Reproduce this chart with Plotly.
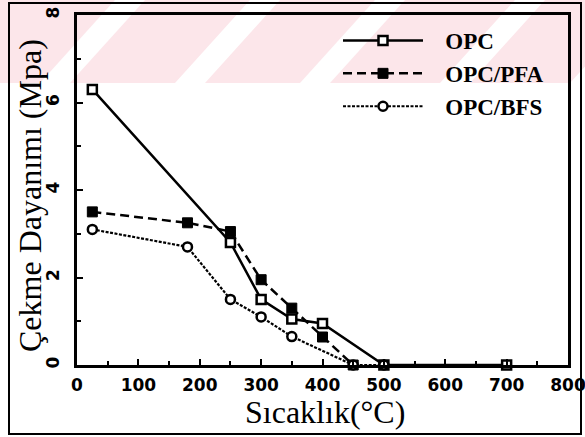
import plotly.graph_objects as go

# Sıcaklık (°C) ve çekme dayanımı (MPa) değerleri
opc_x = [25, 250, 300, 350, 400, 500, 700]
opc_y = [6.3, 2.8, 1.5, 1.05, 0.95, 0, 0]

pfa_x = [25, 180, 250, 300, 350, 400, 450]
pfa_y = [3.5, 3.25, 3.05, 1.95, 1.3, 0.64, 0]

bfs_x = [25, 180, 250, 300, 350, 450, 500]
bfs_y = [3.1, 2.7, 1.5, 1.1, 0.65, 0, 0]

x_ticks = [0, 100, 200, 300, 400, 500, 600, 700, 800]
y_ticks = [0, 2, 4, 6, 8]

W, H = 585, 437
L, R, T, B = 77, 17, 15, 72
pw, ph = W - L - R, H - T - B


def px(x):
    return (x - L) / pw


def py(y):
    return (H - B - y) / ph


pad = "\u00a0\u00a0\u00a0"

fig = go.Figure()

fig.add_trace(go.Scatter(
    x=opc_x, y=opc_y, name=pad + "OPC", mode="lines+markers", cliponaxis=False,
    line=dict(color="black", width=2.5),
    marker=dict(symbol="square", size=9, color="white",
                line=dict(color="black", width=2.5)),
))
fig.add_trace(go.Scatter(
    x=pfa_x, y=pfa_y, name=pad + "OPC/PFA", mode="lines+markers", cliponaxis=False,
    line=dict(color="black", width=2.5, dash="9px,5px"),
    marker=dict(symbol="square", size=10, color="black",
                line=dict(color="black", width=1)),
))
fig.add_trace(go.Scatter(
    x=bfs_x, y=bfs_y, name=pad + "OPC/BFS", mode="lines+markers", cliponaxis=False,
    line=dict(color="black", width=2.2, dash="3px,1.5px"),
    marker=dict(symbol="circle", size=9, color="white",
                line=dict(color="black", width=2.5)),
))

shapes = []
# soluk kırmızı filigran bandı
shapes.append(dict(type="rect", xref="paper", yref="paper",
                   x0=px(0), x1=px(W), y0=py(83), y1=py(0),
                   fillcolor="#fce6ea", line=dict(width=0), layer="below"))
for s in [40, 175, 300, 440, 570]:
    path = "M {} {} L {} {} L {} {} L {} {} Z".format(
        px(s), py(83), px(s + 30), py(83), px(s + 105), py(0), px(s + 75), py(0))
    shapes.append(dict(type="path", xref="paper", yref="paper", path=path,
                       fillcolor="white", line=dict(width=0), layer="below"))
# dış çerçeve
shapes.append(dict(type="rect", xref="paper", yref="paper",
                   x0=px(9), x1=px(581), y0=py(434), y1=py(3),
                   line=dict(color="black", width=2)))

axis_common = dict(
    showline=True, linecolor="black", linewidth=3, mirror=True,
    ticks="inside", ticklen=6, tickwidth=2, tickcolor="black",
    showgrid=False, zeroline=False, automargin=False,
    ticklabeloverflow="allow",
    tickfont=dict(family="DejaVu Sans", size=17, color="black", weight="bold"),
)

fig.update_layout(
    width=W, height=H,
    margin=dict(l=L, r=R, t=T, b=B, autoexpand=False),
    plot_bgcolor="rgba(0,0,0,0)",
    paper_bgcolor="white",
    showlegend=True,
    legend=dict(
        x=px(338), y=py(19), xanchor="left", yanchor="top",
        bgcolor="rgba(0,0,0,0)", itemwidth=80, tracegroupgap=0,
        font=dict(family="Liberation Serif", size=23, color="black", weight="bold"),
    ),
    xaxis=dict(
        range=[0, 800], tickvals=x_ticks, ticktext=[str(v) for v in x_ticks],
        ticklabelstandoff=3,
        minor=dict(ticks="inside", dtick=50, ticklen=4, tickwidth=2, tickcolor="black"),
        **axis_common,
    ),
    yaxis=dict(
        range=[0, 8], tickvals=y_ticks, ticktext=[str(v) for v in y_ticks],
        tickangle=-90, ticklabelstandoff=8,
        minor=dict(ticks="inside", dtick=1, ticklen=4, tickwidth=2, tickcolor="black"),
        **axis_common,
    ),
    shapes=shapes,
    annotations=[
        dict(text="Çekme Dayanımı (Mpa)", xref="paper", yref="paper",
             x=px(30), y=py(196), xanchor="center", yanchor="middle",
             textangle=-90, showarrow=False,
             font=dict(family="Liberation Serif", size=32, color="black")),
        dict(text="Sıcaklık(°C)", xref="paper", yref="paper",
             x=px(325), y=py(412), xanchor="center", yanchor="middle",
             showarrow=False,
             font=dict(family="Liberation Serif", size=32, color="black")),
    ],
)

fig.write_html("out.html", config={"displayModeBar": False},
               post_script="document.body.style.margin='0';")
